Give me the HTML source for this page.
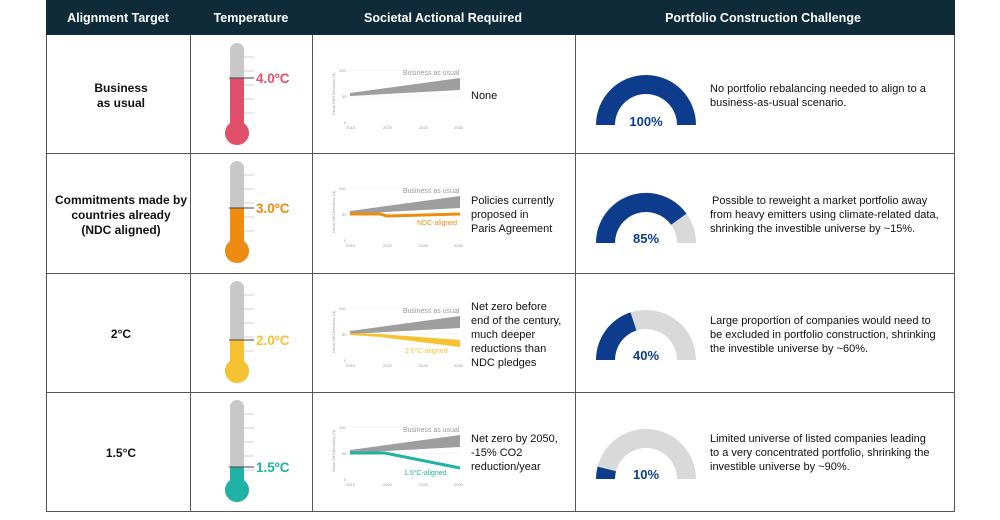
<!DOCTYPE html>
<html><head><style>
body{margin:0;width:1000px;height:515px;background:#fff;overflow:hidden;font-family:"Liberation Sans",Arial,sans-serif}
</style></head><body>
<svg width="1000" height="515" xmlns="http://www.w3.org/2000/svg" font-family="Liberation Sans, Arial, sans-serif">
<rect x="46" y="0" width="909" height="35" fill="#0f2b3a"/>
<g fill="#fff" font-size="12.5" font-weight="bold" text-anchor="middle">
<text x="118" y="22">Alignment Target</text>
<text x="251" y="22">Temperature</text>
<text x="443" y="22">Societal Actional Required</text>
<text x="763" y="22">Portfolio Construction Challenge</text>
</g>
<g stroke="#555" stroke-width="1" fill="none">
<line x1="46.5" y1="35" x2="46.5" y2="512"/><line x1="190.5" y1="35" x2="190.5" y2="512"/>
<line x1="312.5" y1="35" x2="312.5" y2="512"/><line x1="575.5" y1="35" x2="575.5" y2="512"/>
<line x1="954.5" y1="35" x2="954.5" y2="512"/>
<line x1="46" y1="153.5" x2="955" y2="153.5"/><line x1="46" y1="273.5" x2="955" y2="273.5"/>
<line x1="46" y1="392.5" x2="955" y2="392.5"/><line x1="46" y1="511.5" x2="955" y2="511.5"/>
</g>
<g font-size="12" font-weight="bold" text-anchor="middle" fill="#111">
<text x="121" y="92">Business</text><text x="121" y="107">as usual</text>
<text x="121" y="204">Commitments made by</text><text x="121" y="219">countries already</text><text x="121" y="234">(NDC aligned)</text>
<text x="121" y="338">2°C</text>
<text x="121" y="457">1.5°C</text>
</g>

<defs>
<g id="therm">
<rect x="230" y="8" width="14" height="92" rx="7" fill="#c8c8c8"/>
<circle cx="237" cy="98" r="12" fill="#c8c8c8"/>
<g stroke="#d0d0d0" stroke-width="1"><line x1="244" y1="22" x2="254" y2="22"/><line x1="244" y1="36" x2="254" y2="36"/><line x1="244" y1="50" x2="254" y2="50"/><line x1="244" y1="64" x2="254" y2="64"/><line x1="244" y1="78" x2="254" y2="78"/></g>
</g>
</defs>
<g transform="translate(0,35)"><use href="#therm"/><rect x="230" y="43" width="14" height="57" fill="#e0506a"/><circle cx="237" cy="98" r="12" fill="#e0506a"/><line x1="229" y1="43" x2="254" y2="43" stroke="#444"/><text x="256" y="48" font-size="13.5" font-weight="bold" fill="#e0506a">4.0ºC</text></g>
<g transform="translate(0,153)"><use href="#therm"/><rect x="230" y="55" width="14" height="45" fill="#ef8c0f"/><circle cx="237" cy="98" r="12" fill="#ef8c0f"/><line x1="229" y1="55" x2="254" y2="55" stroke="#444"/><text x="256" y="60" font-size="13.5" font-weight="bold" fill="#ef8c0f">3.0ºC</text></g>
<g transform="translate(0,273)"><use href="#therm"/><rect x="230" y="67" width="14" height="33" fill="#f6c232"/><circle cx="237" cy="98" r="12" fill="#f6c232"/><line x1="229" y1="67" x2="254" y2="67" stroke="#444"/><text x="256" y="72" font-size="13.5" font-weight="bold" fill="#f6c232">2.0ºC</text></g>
<g transform="translate(0,392)"><use href="#therm"/><rect x="230" y="75" width="14" height="25" fill="#20b3a5"/><circle cx="237" cy="98" r="12" fill="#20b3a5"/><line x1="229" y1="75" x2="254" y2="75" stroke="#444"/><text x="256" y="80" font-size="13.5" font-weight="bold" fill="#20b3a5">1.5ºC</text></g>

<defs>
<g id="mini">
<g stroke="#eee" stroke-width="0.6"><line x1="347" y1="35" x2="460" y2="35"/><line x1="347" y1="61" x2="460" y2="61"/></g>
<g font-size="4" fill="#999"><text x="339" y="37">100</text><text x="342" y="63">50</text><text x="344" y="89">0</text>
<text x="346" y="94">2015</text><text x="383" y="94">2020</text><text x="419" y="94">2025</text><text x="454" y="94">2030</text></g>
<text x="335" y="80" font-size="3.5" fill="#999" transform="rotate(-90 335 80)">Global GHG Emissions (%)</text>
<polygon points="350,58 460,43 460,55 350,61" fill="#9e9e9e"/>
<text x="403" y="40" font-size="7" fill="#999">Business as usual</text>
</g>
</defs>
<g transform="translate(0,35)"><use href="#mini"/></g>
<g transform="translate(0,153)"><use href="#mini"/><polyline points="350,61 380,61 387,63 460,61" stroke="#ef8c0f" stroke-width="3" fill="none"/><text x="417" y="72" font-size="7" fill="#ef8c0f">NDC-aligned</text></g>
<g transform="translate(0,273)"><use href="#mini"/><polygon points="350,60 380,61 460,67 460,74 380,64 350,62" fill="#f6c232"/><text x="405" y="80" font-size="7" fill="#f6c232">2.0°C-aligned</text></g>
<g transform="translate(0,392)"><use href="#mini"/><polyline points="350,61 385,61 460,76" stroke="#20b3a5" stroke-width="3" fill="none"/><text x="404" y="83" font-size="7" fill="#20b3a5">1.5°C-aligned</text></g>

<g font-size="11" fill="#111">
<text x="471" y="99">None</text>
<text x="471" y="204">Policies currently</text><text x="471" y="218">proposed in</text><text x="471" y="232">Paris Agreement</text>
<text x="471" y="310">Net zero before</text><text x="471" y="324">end of the century,</text><text x="471" y="338">much deeper</text><text x="471" y="352">reductions than</text><text x="471" y="366">NDC pledges</text>
<text x="471" y="442">Net zero by 2050,</text><text x="471" y="456">-15% CO2</text><text x="471" y="470">reduction/year</text>
</g>

<g>
<path d="M596,125 A50,50 0 0 1 696,125 L677,125 A31,31 0 0 0 615,125 Z" fill="#0d3c8c"/>
<text x="646" y="126" font-size="13" font-weight="bold" fill="#0d3c8c" text-anchor="middle">100%</text>
</g>
<g>
<path d="M596,243 A50,50 0 0 1 696,243 L677,243 A31,31 0 0 0 615,243 Z" fill="#d9d9d9"/>
<path d="M596,243 A50,50 0 0 1 686.5,213.6 L671.1,224.8 A31,31 0 0 0 615,243 Z" fill="#0d3c8c"/>
<text x="646" y="243" font-size="13" font-weight="bold" fill="#0d3c8c" text-anchor="middle">85%</text>
</g>
<g>
<path d="M596,360 A50,50 0 0 1 696,360 L677,360 A31,31 0 0 0 615,360 Z" fill="#d9d9d9"/>
<path d="M596,360 A50,50 0 0 1 630.5,312.4 L636.4,330.5 A31,31 0 0 0 615,360 Z" fill="#0d3c8c"/>
<text x="646" y="360" font-size="13" font-weight="bold" fill="#0d3c8c" text-anchor="middle">40%</text>
</g>
<g>
<path d="M596,479 A50,50 0 0 1 696,479 L677,479 A31,31 0 0 0 615,479 Z" fill="#d9d9d9"/>
<path d="M596,479 A50,50 0 0 1 597.6,466.6 L616,471.3 A31,31 0 0 0 615,479 Z" fill="#0d3c8c"/>
<text x="646" y="479" font-size="13" font-weight="bold" fill="#0d3c8c" text-anchor="middle">10%</text>
</g>

<g font-size="11" fill="#111">
<text x="710" y="92">No portfolio rebalancing needed to align to a</text><text x="710" y="106">business-as-usual scenario.</text>
<text x="712" y="204">Possible to reweight a market portfolio away</text><text x="710" y="218">from heavy emitters using climate-related data,</text><text x="710" y="232">shrinking the investible universe by ~15%.</text>
<text x="710" y="324">Large proportion of companies would need to</text><text x="710" y="338">be excluded in portfolio construction, shrinking</text><text x="710" y="352">the investible universe by ~60%.</text>
<text x="710" y="442">Limited universe of listed companies leading</text><text x="710" y="456">to a very concentrated portfolio, shrinking the</text><text x="710" y="470">investible universe by ~90%.</text>
</g>
</svg>
</body></html>
